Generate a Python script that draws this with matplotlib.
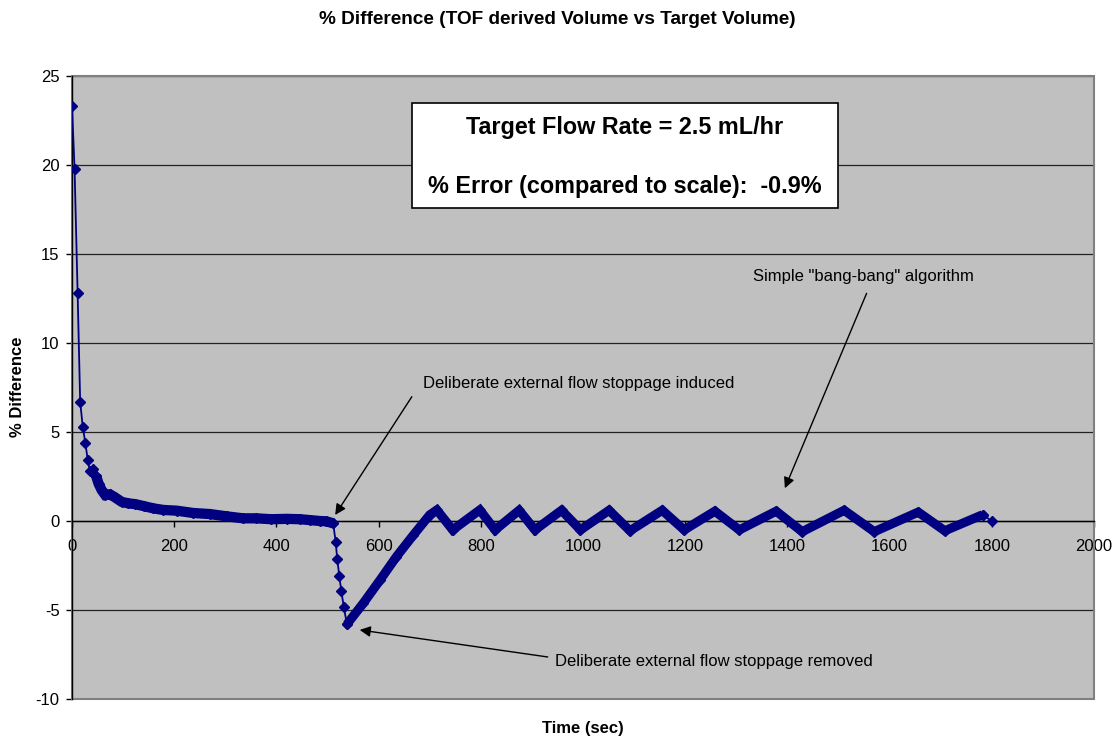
"""
% Difference chart: TOF derived volume vs target volume over time
"""
import matplotlib
matplotlib.use("Agg")
import matplotlib.pyplot as plt
from matplotlib.patches import Rectangle

plt.rcParams['font.family'] = ['Liberation Sans', 'DejaVu Sans']
plt.rcParams['axes.unicode_minus'] = False

# first few samples (sparse markers, thin line)
start_t = [0, 5, 11, 16, 21, 26, 31, 35, 42, 47]
start_v = [23.3, 19.8, 12.8, 6.7, 5.3, 4.4, 3.4, 2.8, 2.9, 2.55]

# settling part (dense samples -> thick band)
settle_t = [47, 52, 58, 65, 74, 84, 97, 110, 123, 140, 159, 179, 205, 237,
            270, 303, 335, 361, 390, 420, 446, 466, 485, 498, 511]
settle_v = [2.55, 2.1, 1.74, 1.46, 1.5, 1.33, 1.08, 0.99, 0.95, 0.84, 0.71,
            0.62, 0.58, 0.45, 0.39, 0.26, 0.15, 0.15, 0.1, 0.12, 0.1, 0.05,
            0.0, -0.02, -0.13]

# flow stoppage (sparse markers)
stop_t = [511, 516, 519, 523, 527, 532, 538]
stop_v = [-0.13, -1.16, -2.13, -3.07, -3.93, -4.85, -5.8]

# recovery and bang-bang control (dense samples)
control_t = [538, 570, 603, 635, 668, 700, 714, 745, 798, 828, 875, 906, 958,
             995, 1051, 1092, 1155, 1198, 1258, 1306, 1378, 1429, 1511, 1570,
             1656, 1708, 1782]
control_v = [-5.8, -4.62, -3.31, -2.0, -0.79, 0.34, 0.62, -0.5, 0.62, -0.5,
             0.6, -0.5, 0.6, -0.5, 0.6, -0.55, 0.6, -0.5, 0.55, -0.5, 0.55,
             -0.6, 0.6, -0.6, 0.5, -0.55, 0.35]

# last sample
end_t = [1782, 1800]
end_v = [0.35, 0.0]

x_ticks = list(range(0, 2001, 200))
y_ticks = list(range(-10, 26, 5))

NAVY = '#000080'

fig = plt.figure(figsize=(11.14, 7.36), dpi=100)
ax = fig.add_axes([72 / 1114, 1 - 699 / 736, (1094 - 72) / 1114, (699 - 76) / 736])
ax.set_facecolor('#C0C0C0')
ax.set_xlim(0, 2000)
ax.set_ylim(-10, 25)

# gridlines
ax.set_yticks(y_ticks)
ax.set_xticks(x_ticks)
ax.yaxis.grid(True, color='#222222', lw=0.9)
ax.set_axisbelow(True)

# plot area border
for s in ['top', 'right']:
    ax.spines[s].set_visible(False)
ax.add_patch(Rectangle((0, 0), 1, 1, transform=ax.transAxes, fill=False,
                       edgecolor='#808080', lw=1.5, clip_on=False, zorder=1))
ax.spines['left'].set_color('black')
ax.spines['left'].set_linewidth(1.0)
ax.spines['bottom'].set_position(('data', 0))
ax.spines['bottom'].set_color('black')
ax.spines['bottom'].set_linewidth(1.0)

ax.tick_params(axis='both', direction='out', length=4, width=1, labelsize=12)
ax.tick_params(axis='y', pad=5)
ax.tick_params(axis='x', pad=9)

# series
thin = dict(color=NAVY, lw=1.3, marker='D', ms=5.6, mec=NAVY, mfc=NAVY, zorder=4)
thick = dict(color=NAVY, lw=6.6, marker='D', ms=5.6, mec=NAVY, mfc=NAVY,
             solid_joinstyle='miter', solid_capstyle='butt', zorder=4)
ax.plot(start_t, start_v, **thin)
ax.plot(settle_t, settle_v, **dict(thick, lw=7.4))
ax.plot(stop_t, stop_v, **thin)
ax.plot(control_t, control_v, **thick)
ax.plot(end_t, end_v, **thin)

# annotations
arrow = dict(arrowstyle='-|>', color='black', lw=1.0, mutation_scale=16,
             shrinkA=0, shrinkB=0)
ax.annotate('', xy=(515, 0.34), xytext=(665, 6.98), arrowprops=arrow, zorder=5)
ax.text(686, 7.7, 'Deliberate external flow stoppage induced', fontsize=12,
        ha='left', va='center')
ax.annotate('', xy=(563, -6.12), xytext=(931, -7.64), arrowprops=arrow, zorder=5)
ax.text(945, -7.92, 'Deliberate external flow stoppage removed', fontsize=12,
        ha='left', va='center')
ax.annotate('', xy=(1395, 1.84), xytext=(1555, 12.79), arrowprops=arrow, zorder=5)
ax.text(1332, 13.76, 'Simple "bang-bang" algorithm', fontsize=12,
        ha='left', va='center')

# info box
box_l, box_r = 411.7, 838.3
box_top, box_bot = 102.7, 208.3
fig.patches.append(Rectangle((box_l / 1114, 1 - box_bot / 736),
                             (box_r - box_l) / 1114, (box_bot - box_top) / 736,
                             transform=fig.transFigure, facecolor='white',
                             edgecolor='black', lw=1.2, zorder=6))
fig.text(625 / 1114, 1 - 127.5 / 736, 'Target Flow Rate = 2.5 mL/hr',
         fontsize=16.8, fontweight='bold', ha='center', va='center', zorder=7)
fig.text(625 / 1114, 1 - 187 / 736, '% Error (compared to scale):  -0.9%',
         fontsize=16.8, fontweight='bold', ha='center', va='center', zorder=7)

# titles
fig.text(557 / 1114, 1 - 20 / 736,
         '% Difference (TOF derived Volume vs Target Volume)',
         fontsize=13.7, fontweight='bold', ha='center', va='center')
fig.text(18 / 1114, 1 - 387 / 736, '% Difference', fontsize=12,
         fontweight='bold', rotation=90, ha='center', va='center')
fig.text(583 / 1114, 1 - 728 / 736, 'Time (sec)', fontsize=12,
         fontweight='bold', ha='center', va='center')

fig.savefig('out.png', dpi=100)
